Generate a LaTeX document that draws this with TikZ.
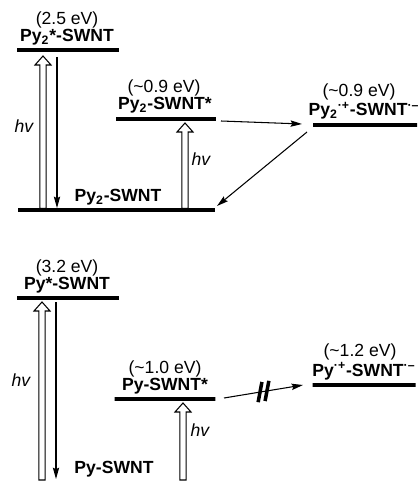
\documentclass[tikz,border=0pt]{standalone}
\usepackage{fontspec}
\setmainfont{Liberation Sans}
\usetikzlibrary{positioning,arrows.meta,calc}
\usetikzlibrary{decorations.markings}
\tikzset{
  lvl/.style={draw=black, line width=2pt, inner sep=0pt, minimum height=0pt, minimum width=#1},
  species/.style={font=\bfseries, anchor=base, inner sep=0pt},
  energy/.style={anchor=base, inner sep=0pt},
  hvtext/.style={font=\itshape, anchor=base, inner sep=0pt},
  hollow/.style={draw=black, fill=white, line width=0.6pt, line join=miter},
  decay/.style={line width=0.6pt, -{Stealth[length=6.5pt,width=3.6pt,inset=1pt]}},
  blocked/.style={decay, postaction={decorate},
    decoration={markings,mark=at position .5 with {
      \draw[line width=2pt,-] (-4pt,-5.5pt) -- (0pt,5.5pt);
      \draw[line width=2pt,-] (0pt,-5.5pt) -- (4pt,5.5pt);}}}
}
% hollow excitation arrow from base (#1) up to tip (#2)
\newcommand{\hvup}[2]{%
  \draw[hollow] ($(#1)+(-3.2,0)$) -- ($(#2)+(-3.2,9)$) -- ($(#2)+(-8,9)$) -- (#2)
    -- ($(#2)+(8,9)$) -- ($(#2)+(3.2,9)$) -- ($(#1)+(3.2,0)$) -- cycle;}

\begin{document}
\begin{tikzpicture}[x=0.02cm, y=-0.02cm]
  \useasboundingbox (0,0) rectangle (419,482);

  % Py2-SWNT
  \node[lvl=2.04cm] (py2ex) at (68,50) {};
  \node[lvl=3.94cm] (py2g)  at (116.5,210) {};
  \node[lvl=2.0cm]  (py2s)  at (166,119) {};
  \node[lvl=2.08cm] (py2cs) at (365,125) {};

  \node[species] (py2exT) at ($(py2ex)+(-1,-8.5)$) {Py\textsubscript{2}*-SWNT};
  \node[energy]  (py2exE) at ($(py2exT.base)+(0,-17)$) {(2.5 eV)};
  \node[species] (py2sT)  at ($(py2s)+(-1,-9)$) {Py\textsubscript{2}-SWNT*};
  \node[energy]  (py2sE)  at ($(py2sT.base)+(-1,-17)$) {(\textasciitilde0.9 eV)};
  \node[species] (py2csT) at ($(py2cs)+(-1,-9)$) {Py\textsubscript{2}\textsuperscript{·+}-SWNT\textsuperscript{·–}};
  \node[energy]  (py2csE) at ($(py2csT.base)+(-5,-19.5)$) {(\textasciitilde0.9 eV)};
  \node[species] (py2gT)  at ($(py2g)+(1.5,-8)$) {Py\textsubscript{2}-SWNT};

  \coordinate (a1) at ($(py2g)+(-73.5,-1.5)$);
  \coordinate (a2) at ($(py2ex)+(-25,6)$);
  \coordinate (b1) at ($(py2g)+(68.5,-1.5)$);
  \coordinate (b2) at ($(py2s)+(19,4)$);
  \hvup{a1}{a2}
  \hvup{b1}{b2}
  \draw[decay] ($(py2ex)+(-11,7)$) -- ($(py2g)+(-59.5,-2)$);
  \draw[decay] ($(py2s)+(55,2)$) -- ($(py2cs)+(-63,-1)$);
  \draw[decay] ($(py2cs)+(-58,7)$) -- ($(py2g)+(100.5,-4)$);

  \node[hvtext] (hvA) at (24,133) {hv};
  \node[hvtext] (hvB) at (201,166) {hv};

  % Py-SWNT
  \node[lvl=2.04cm] (pyex) at (68,298) {};
  \node[lvl=2.02cm] (pys)  at (165,399) {};
  \node[lvl=2.06cm] (pycs) at (364,385) {};
  \coordinate (pyg) at (114,480);

  \node[species] (pyexT) at ($(pyex)+(-1,-8.5)$) {Py*-SWNT};
  \node[energy]  (pyexE) at ($(pyexT.base)+(0,-17)$) {(3.2 eV)};
  \node[species] (pysT)  at ($(pys)+(0,-9)$) {Py-SWNT*};
  \node[energy]  (pysE)  at ($(pysT.base)+(0,-17)$) {(\textasciitilde1.0 eV)};
  \node[species] (pycsT) at ($(pycs)+(0,-9)$) {Py\textsuperscript{·+}-SWNT\textsuperscript{·–}};
  \node[energy]  (pycsE) at ($(pycsT.base)+(-4,-19.5)$) {(\textasciitilde1.2 eV)};
  \node[species] (pygT)  at ($(pyg)+(0,-7)$) {Py-SWNT};

  \coordinate (c1) at ($(pyg)+(-72,0)$);
  \coordinate (c2) at ($(pyex)+(-26,4)$);
  \coordinate (d1) at ($(pyg)+(69,0)$);
  \coordinate (d2) at ($(pys)+(18,4)$);
  \hvup{c1}{c2}
  \hvup{d1}{d2}
  \draw[decay] ($(pyex)+(-12,4)$) -- ($(pyg)+(-58,-1)$);
  \draw[blocked] ($(pys)+(59,-1)$) -- ($(pycs)+(-61,0)$);

  \node[hvtext] (hvC) at (21,386) {hv};
  \node[hvtext] (hvD) at (200,436) {hv};
\end{tikzpicture}
\end{document}
